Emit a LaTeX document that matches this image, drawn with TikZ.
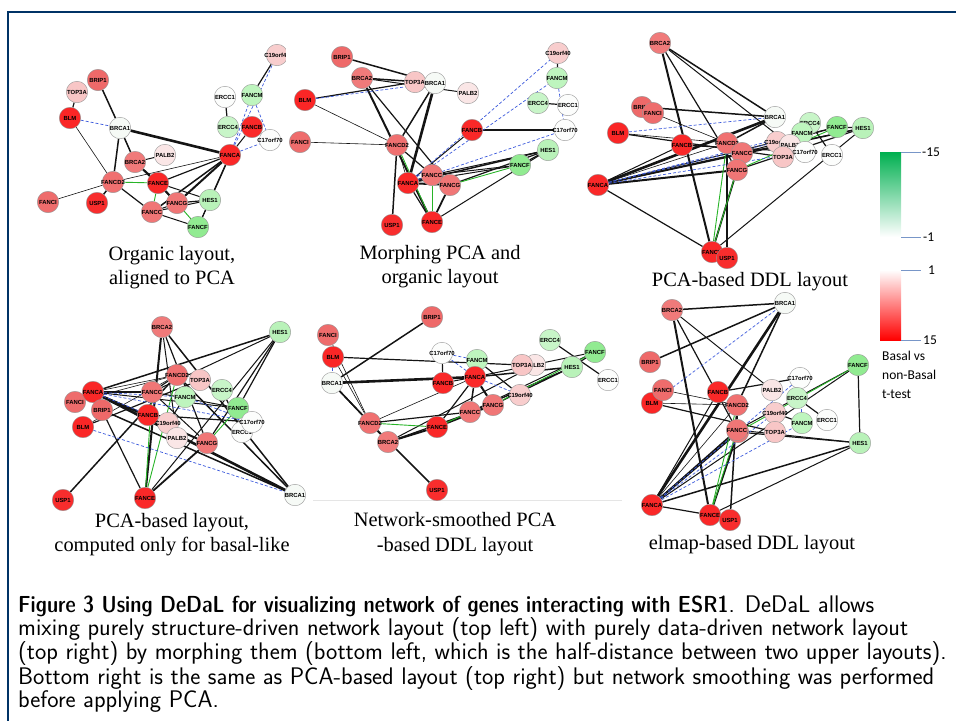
\documentclass[tikz,border=0pt]{standalone}
\usepackage{fontspec}
\setmainfont{Liberation Serif}
\newfontfamily\labfont{Liberation Sans}
\newfontfamily\legfont{Carlito}
\newfontfamily\capbold{lmsansdemicond10-regular.otf}
\pgfdeclarelayer{edgelayer}
\pgfsetlayers{edgelayer,main}
% gene colours
\definecolor{cBLM}{RGB}{250,38,38}
\definecolor{cFANCB}{RGB}{250,40,40}
\definecolor{cFANCA}{RGB}{250,40,40}
\definecolor{cUSP1}{RGB}{248,45,45}
\definecolor{cFANCE}{RGB}{250,40,40}
\definecolor{cBRIP1}{RGB}{238,105,105}
\definecolor{cFANCI}{RGB}{238,108,108}
\definecolor{cBRCA2}{RGB}{240,122,122}
\definecolor{cFANCD2}{RGB}{240,112,112}
\definecolor{cFANCC}{RGB}{240,118,118}
\definecolor{cFANCG}{RGB}{240,118,118}
\definecolor{cTOP3A}{RGB}{248,198,198}
\definecolor{cC19orf40}{RGB}{248,205,205}
\definecolor{cPALB2}{RGB}{250,230,230}
\definecolor{cBRCA1}{RGB}{246,250,246}
\definecolor{cERCC1}{RGB}{252,253,252}
\definecolor{cC17orf70}{RGB}{252,253,252}
\definecolor{cFANCM}{RGB}{190,245,190}
\definecolor{cERCC4}{RGB}{200,245,200}
\definecolor{cHES1}{RGB}{185,242,185}
\definecolor{cFANCF}{RGB}{145,235,145}
\definecolor{nodeborder}{RGB}{150,150,150}
\definecolor{edgeblack}{RGB}{20,20,20}
\definecolor{edgegreen}{RGB}{40,180,40}
\definecolor{edgeblue}{RGB}{60,90,220}
\definecolor{tickblue}{RGB}{120,150,200}
\definecolor{framecol}{RGB}{0,51,102}
\definecolor{leggreen}{RGB}{0,176,80}
\definecolor{legred}{RGB}{255,0,0}
\tikzset{
 gene/.style={circle, draw=nodeborder, line width=0.4pt, minimum size=21.5pt, inner sep=0pt},
 genelab/.style={inner sep=0pt, font=\labfont\bfseries\fontsize{5.9}{6}\selectfont, text=black},
 bedge/.style={draw=edgeblack},
 gedge/.style={draw=edgegreen, line width=0.9pt},
 dedge/.style={draw=edgeblue, line width=0.7pt, dash pattern=on 3pt off 2pt},
 ttl/.style={anchor=base, font=\fontsize{20.4}{24}\selectfont, inner sep=0pt},
 legtxt/.style={font=\legfont\fontsize{13.5}{19}\selectfont, inner sep=0pt},
 legtick/.style={draw=tickblue, line width=0.9pt},
 frameline/.style={draw=framecol, line width=2.4pt},
}
\newcommand\gn[4]{\node[gene, fill=c#2, label={[genelab]center:#2}] (#1#2) at (#3,#4) {};}
\newcommand\netedges[1]{%
 \begin{pgfonlayer}{edgelayer}
 \foreach \u/\v/\w in {BLM/TOP3A/1.2, BRIP1/BRCA1/1.5, BLM/FANCD2/0.6, FANCI/FANCD2/0.6,
   BRCA1/FANCA/2.6, BRCA1/BRCA2/1.5, BRCA1/FANCD2/1.5, BRCA2/PALB2/1, BRCA2/FANCE/2,
   BRCA2/FANCG/1.2, USP1/FANCD2/1.5, FANCD2/FANCC/1.2, FANCD2/FANCA/0.6, FANCE/FANCG/1.8,
   FANCE/HES1/1, FANCE/FANCA/1.2, FANCC/FANCG/1, FANCC/FANCA/1.5, FANCC/FANCF/1,
   FANCC/HES1/1, FANCG/FANCA/2, FANCG/HES1/1.2, FANCA/HES1/1.5, HES1/FANCF/1.2,
   FANCA/FANCF/1, ERCC1/ERCC4/1.2, FANCM/C19orf40/1.2, FANCB/C17orf70/1.2, FANCB/FANCA/1}
   {\draw[bedge, line width=\w pt] (#1\u) -- (#1\v);}
 \foreach \u/\v in {FANCD2/FANCE, FANCE/FANCC, FANCG/FANCF}
   {\draw[gedge] (#1\u) -- (#1\v);}
 \foreach \u/\v in {BLM/BRCA1, FANCA/FANCM, FANCA/C19orf40, FANCA/C17orf70, FANCM/C17orf70}
   {\draw[dedge] (#1\u) -- (#1\v);}
 \end{pgfonlayer}}
\newcommand\panel[2]{\foreach \g/\x/\y in {#2} {\gn{#1}{\g}{\x}{\y}}\netedges{#1}}
\begin{document}
\begin{tikzpicture}[x=1pt,y=-1pt]
\useasboundingbox (0,0) rectangle (956,721);
% frame
\draw[frameline] (956,12) -- (8,12) -- (8,721);
% panel 1: organic layout
\panel{a}{C19orf40/277/55, BRIP1/98/80, TOP3A/77/92, FANCM/252/95, ERCC1/225/97, BLM/70/118,
 BRCA1/120/128, ERCC4/228/127, FANCB/252/127, C17orf70/270/140, FANCA/230/155, PALB2/165/155,
 BRCA2/135/162, FANCD2/113/182, FANCE/158/183, FANCI/48/202, USP1/97/203, FANCG/177/203,
 HES1/210/200, FANCC/152/212, FANCF/198/227}
\fill[white] (286,38) rectangle (297,72);
% panel 2: morphing
\panel{b}{BRIP1/342/57, C19orf40/558/53, BRCA2/362/78, TOP3A/415/82, BRCA1/435/83, PALB2/468/93,
 FANCM/557/78, BLM/305/100, ERCC4/538/103, ERCC1/568/105, FANCB/472/130, C17orf70/565/130,
 FANCI/300/142, FANCD2/397/145, HES1/548/150, FANCF/520/165, FANCA/408/183, FANCC/432/175,
 FANCG/450/185, USP1/392/225, FANCE/432/222}
% panel 3: PCA-based DDL
\panel{c}{BRCA2/660/43, BRIP1/642/107, FANCI/653/113, BLM/618/133, FANCB/682/145, FANCD2/727/143,
 FANCC/742/153, FANCG/737/170, ERCC4/810/123, FANCM/802/133, C19orf40/777/142, PALB2/790/145,
 C17orf70/805/152, ERCC1/832/155, TOP3A/783/157, FANCF/837/127, HES1/863/128, BRCA1/775/117,
 FANCA/598/185, FANCE/712/252, USP1/727/258}
% panel 4: PCA-based, basal-like only
\panel{d}{BRCA2/162/327, HES1/280/332, FANCD2/177/375, TOP3A/200/380, FANCI/75/402, FANCA/93/392,
 FANCC/152/392, FANCM/185/397, ERCC4/222/390, FANCF/238/408, BRIP1/102/410, FANCB/148/415,
 C19orf40/168/423, ERCC1/242/432, C17orf70/252/422, BLM/83/427, PALB2/177/438, FANCG/207/443,
 USP1/63/500, FANCE/145/498, BRCA1/295/495}
% panel 5: network-smoothed
\draw[black!10, line width=1pt] (313,500) -- (622,500);
\panel{e}{BRIP1/432/317, FANCI/328/335, BLM/333/357, C17orf70/442/353, FANCM/477/360, ERCC4/550/340,
 FANCF/595/352, HES1/572/367, PALB2/535/365, TOP3A/522/365, FANCB/443/383, FANCA/475/377,
 BRCA1/332/383, ERCC1/608/380, C19orf40/520/395, FANCG/493/405, FANCC/470/412, FANCD2/370/423,
 FANCE/437/427, BRCA2/388/442, USP1/437/490}
% panel 6: elmap-based
\panel{f}{BRCA1/785/303, BRCA2/672/310, BRIP1/650/362, FANCF/858/365, C17orf70/800/378,
 BLM/652/403, FANCI/663/390, FANCB/718/392, PALB2/772/390, ERCC4/797/398, FANCD2/737/405,
 C19orf40/775/413, ERCC1/827/420, FANCM/802/423, FANCG/738/432, FANCC/737/430, TOP3A/775/432, HES1/860/443,
 FANCA/652/505, FANCE/710/515, USP1/730/520}
% panel titles
\node[ttl] (t1a) at (172,260) {Organic layout,};
\node[ttl] (t1b) at (172,284) {aligned to PCA};
\node[ttl] (t2a) at (440,259) {Morphing PCA and};
\node[ttl] (t2b) at (440,283) {organic layout};
\node[ttl] (t3) at (750,286) {PCA-based DDL layout};
\node[ttl] (t4a) at (172,527) {PCA-based layout,};
\node[ttl] (t4b) at (172,551) {computed only for basal-like};
\node[ttl] (t5a) at (455,526) {Network-smoothed PCA};
\node[ttl] (t5b) at (455,551) {-based DDL layout};
\node[ttl] (t6) at (752,549) {elmap-based DDL layout};
% legend
\shade[top color=leggreen, bottom color=white] (880,152) rectangle (901,237);
\shade[top color=white, bottom color=legred] (880,270) rectangle (901,340);
\draw[legtick] (901,152) -- (921,152);
\draw[legtick] (901,237) -- (921,237);
\draw[legtick] (901,270) -- (921,270);
\draw[legtick] (901,340) -- (921,340);
\node[legtxt, anchor=west] (l15n) at (922,152) {-15};
\node[legtxt, anchor=west] (l1n) at (923,237) {-1};
\node[legtxt, anchor=west] (l1) at (928,270) {1};
\node[legtxt, anchor=west] (l15) at (923,340) {15};
\node[legtxt, anchor=north west, align=left] (lt) at (882,351) {Basal vs\\non-Basal\\t-test};
% caption
\node[anchor=base west, inner sep=0pt] (cap) at (18,612) {\parbox[t]{940pt}{\raggedright\sffamily\fontsize{24}{23}\selectfont
{\capbold\fontsize{23.2}{23}\selectfont Figure 3 Using DeDaL for visualizing network of genes interacting with ESR1}. DeDaL allows\\
mixing purely structure-driven network layout (top left) with purely data-driven network layout\\
(top right) by morphing them (bottom left, which is the half-distance between two upper layouts).\\
Bottom right is the same as PCA-based layout (top right) but network smoothing was performed\\
before applying PCA.}};
\end{tikzpicture}
\end{document}
